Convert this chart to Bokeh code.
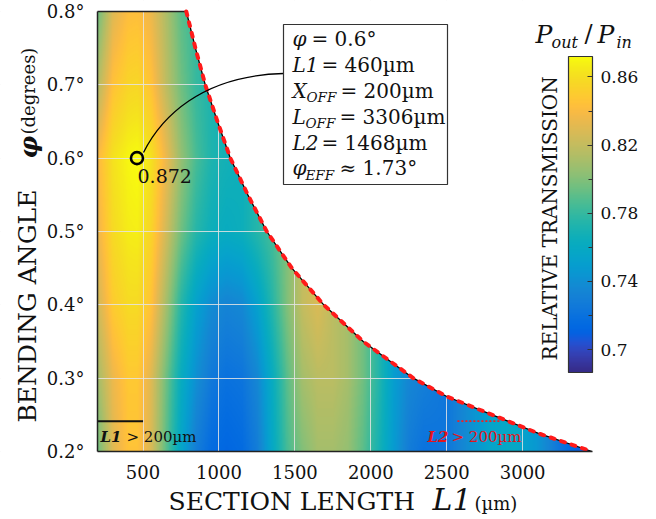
import numpy as np
from bokeh.plotting import figure
from bokeh.models import (LinearColorMapper, ColorBar, FixedTicker, Label,
                          BoxAnnotation, CustomJSTickFormatter)
from bokeh.embed import file_html
from bokeh.resources import INLINE

# ---------------- data ----------------
L1_grid = [200, 300, 400, 460, 550, 650, 750, 850, 950, 1050, 1150, 1250, 1350, 1450,
           1550, 1650, 1750, 1850, 1950, 2050, 2150, 2250, 2350, 2500, 2650, 2800,
           2950, 3100, 3250, 3460]
phi_grid = [0.2, 0.3, 0.4, 0.5, 0.6, 0.7, 0.8]
N = float("nan")
T_phi_020 = [0.795, 0.830, 0.845, 0.845, 0.828, 0.790, 0.755, 0.728, 0.715, 0.712,
             0.715, 0.728, 0.758, 0.785, 0.800, 0.810, 0.810, 0.805, 0.790, 0.770,
             0.748, 0.728, 0.720, 0.723, 0.740, 0.755, 0.758, 0.745, 0.722, 0.700]
T_phi_030 = [0.810, 0.835, 0.848, 0.848, 0.830, 0.795, 0.762, 0.740, 0.725, 0.720,
             0.722, 0.735, 0.762, 0.790, 0.810, 0.817, 0.817, 0.810, 0.795, 0.775,
             0.750, 0.735, 0.730] + [N] * 7
T_phi_040 = [0.825, 0.850, 0.858, 0.858, 0.845, 0.810, 0.775, 0.752, 0.738, 0.733,
             0.736, 0.752, 0.775, 0.800, 0.820, 0.828] + [N] * 14
T_phi_050 = [0.835, 0.858, 0.866, 0.867, 0.855, 0.825, 0.795, 0.775, 0.765, 0.762,
             0.765, 0.775, 0.785] + [N] * 17
T_phi_060 = [0.840, 0.862, 0.870, 0.872, 0.862, 0.835, 0.805, 0.785, 0.772, 0.768] + [N] * 20
T_phi_070 = [0.815, 0.845, 0.855, 0.856, 0.845, 0.818, 0.795, 0.780] + [N] * 22
T_phi_080 = [0.795, 0.830, 0.842, 0.843, 0.835, 0.813, 0.790] + [N] * 23

boundary_phi = [0.8, 0.75, 0.7, 0.65, 0.6, 0.55, 0.5, 0.45, 0.4, 0.35, 0.3, 0.275,
                0.25, 0.225, 0.2]
boundary_L1 = [785, 845, 910, 990, 1075, 1190, 1315, 1480, 1690, 1950, 2280, 2500,
               2800, 3100, 3457]

peak_L1, peak_phi, peak_T = 460, 0.6, 0.872
sel_phi, sel_L1, sel_Xoff, sel_Loff, sel_L2, sel_phi_eff = 0.6, 460, 200, 3306, 1468, 1.73

x_ticks = [500, 1000, 1500, 2000, 2500, 3000]
y_ticks = [0.2, 0.3, 0.4, 0.5, 0.6, 0.7, 0.8]
cbar_ticks = [0.70, 0.74, 0.78, 0.82, 0.86]
cbar_minor = [0.72, 0.76, 0.80, 0.84]
T_low, T_high = 0.6865, 0.872
L1_limit_x = [200, 500]
L2_limit_x = [2570, 2850]
limit_phi = 0.2414

X_LO, X_HI = 200, 3460
Y_LO, Y_HI = 0.2, 0.8

# ---------------- parula colormap ----------------
PARULA = [
    (0.2081, 0.1663, 0.5292), (0.2116, 0.1898, 0.5777), (0.2123, 0.2138, 0.6270),
    (0.2081, 0.2386, 0.6771), (0.1959, 0.2645, 0.7279), (0.1707, 0.2919, 0.7792),
    (0.1253, 0.3242, 0.8303), (0.0591, 0.3598, 0.8683), (0.0117, 0.3875, 0.8820),
    (0.0060, 0.4086, 0.8828), (0.0165, 0.4266, 0.8786), (0.0329, 0.4430, 0.8720),
    (0.0498, 0.4586, 0.8641), (0.0629, 0.4737, 0.8554), (0.0723, 0.4887, 0.8467),
    (0.0779, 0.5040, 0.8384), (0.0793, 0.5200, 0.8312), (0.0749, 0.5375, 0.8263),
    (0.0641, 0.5570, 0.8240), (0.0488, 0.5772, 0.8228), (0.0343, 0.5966, 0.8199),
    (0.0265, 0.6137, 0.8135), (0.0239, 0.6287, 0.8038), (0.0231, 0.6418, 0.7913),
    (0.0228, 0.6535, 0.7768), (0.0267, 0.6642, 0.7607), (0.0384, 0.6743, 0.7436),
    (0.0590, 0.6838, 0.7254), (0.0843, 0.6928, 0.7062), (0.1133, 0.7015, 0.6859),
    (0.1453, 0.7098, 0.6646), (0.1801, 0.7177, 0.6424), (0.2178, 0.7250, 0.6193),
    (0.2586, 0.7317, 0.5954), (0.3022, 0.7376, 0.5712), (0.3482, 0.7424, 0.5473),
    (0.3953, 0.7459, 0.5244), (0.4420, 0.7481, 0.5033), (0.4871, 0.7491, 0.4840),
    (0.5300, 0.7491, 0.4661), (0.5709, 0.7485, 0.4494), (0.6099, 0.7473, 0.4337),
    (0.6473, 0.7456, 0.4188), (0.6834, 0.7435, 0.4044), (0.7184, 0.7411, 0.3905),
    (0.7525, 0.7384, 0.3768), (0.7858, 0.7356, 0.3633), (0.8185, 0.7327, 0.3498),
    (0.8507, 0.7299, 0.3360), (0.8824, 0.7274, 0.3217), (0.9139, 0.7258, 0.3063),
    (0.9450, 0.7261, 0.2886), (0.9739, 0.7314, 0.2666), (0.9938, 0.7455, 0.2403),
    (0.9990, 0.7653, 0.2164), (0.9955, 0.7861, 0.1967), (0.9880, 0.8066, 0.1794),
    (0.9789, 0.8271, 0.1633), (0.9697, 0.8481, 0.1475), (0.9626, 0.8705, 0.1309),
    (0.9589, 0.8949, 0.1132), (0.9598, 0.9218, 0.0948), (0.9661, 0.9514, 0.0755),
    (0.9763, 0.9831, 0.0538)]
_pa = np.array(PARULA)
_t = np.linspace(0, 1, 256)
_ts = np.linspace(0, 1, len(PARULA))
palette = ["#%02x%02x%02x" % tuple(int(round(np.interp(t, _ts, _pa[:, k]) * 255)) for k in range(3))
           for t in _t]

# ---------------- layout: frame covers the whole canvas ----------------
FIG_W, FIG_H = 656, 519
RX0, RX1, RY0, RY1 = 97, 592, 11, 451   # data rectangle in pixels
KX = (X_HI - X_LO) / (RX1 - RX0)
KY = (Y_HI - Y_LO) / (RY1 - RY0)


def xr(px):
    return X_LO + (px - RX0) * KX


def yr(py):
    return Y_HI - (py - RY0) * KY


XR = (xr(0), xr(FIG_W))
YR = (yr(FIG_H), yr(0))
FONT = "DejaVu Serif"

p = figure(width=FIG_W, height=FIG_H, x_range=XR, y_range=YR,
           output_backend="svg", toolbar_location=None, min_border=0)
p.outline_line_color = None
p.background_fill_color = "white"
p.border_fill_color = "white"

# ---------------- heat map ----------------
Z = np.array([T_phi_020, T_phi_030, T_phi_040, T_phi_050, T_phi_060, T_phi_070, T_phi_080])
for i in range(1, Z.shape[0]):
    m = np.isnan(Z[i])
    Z[i, m] = Z[i - 1, m]
xf = np.linspace(X_LO, X_HI, 660)
yf = np.linspace(Y_LO, Y_HI, 440)
tmp = np.array([np.interp(xf, L1_grid, row) for row in Z])
img = np.array([np.interp(yf, phi_grid, tmp[:, j]) for j in range(len(xf))]).T

mapper = LinearColorMapper(palette=palette, low=T_low, high=T_high)
p.image(image=[img], x=X_LO, y=Y_LO, dw=X_HI - X_LO, dh=Y_HI - Y_LO,
        color_mapper=mapper, level="image")

# grid
for g in (p.xgrid, p.ygrid):
    g.grid_line_color = "#e4e4e4"
    g.grid_line_alpha = 0.85
    g.grid_line_width = 1

# white mask outside the data region
mask_x = [boundary_L1[0]] + boundary_L1 + [boundary_L1[-1], XR[1], XR[1]]
mask_y = [YR[1]] + boundary_phi + [YR[0], YR[0], YR[1]]
p.patch(mask_x, mask_y, fill_color="white", line_color=None)
p.quad(left=[XR[0], XR[0], XR[0]], right=[X_LO, XR[1], XR[1]],
       bottom=[YR[0], YR[0], Y_HI], top=[YR[1], Y_LO, YR[1]],
       fill_color="white", line_color=None)

# outline lines
p.line([X_LO, boundary_L1[0]], [Y_HI, Y_HI], line_color="#222222", line_width=1.5)
p.line(boundary_L1, boundary_phi, line_color="black", line_width=1.3)
p.line(boundary_L1, boundary_phi, line_color="#ff1a1a", line_width=4,
       line_dash="4 7", line_cap="round")

# limit markers
p.line(L1_limit_x, [limit_phi, limit_phi], line_color="#111111", line_width=2)
p.line(L2_limit_x, [limit_phi, limit_phi], line_color="#ff1a1a", line_width=1.6,
       line_dash="2 2")

# connector
p.bezier(x0=[xr(143)], y0=[yr(152)], x1=[xr(283)], y1=[yr(73)],
         cx0=[xr(160)], cy0=[yr(118)], cx1=[xr(200)], cy1=[yr(75)],
         line_color="black", line_width=1.3)

# peak marker
p.scatter(x=[peak_L1], y=[peak_phi], size=12, marker="circle", fill_alpha=0,
          line_color="black", line_width=2.6)

# ---------------- axes (pinned to the data rectangle) ----------------
p.xaxis.ticker = FixedTicker(ticks=x_ticks)
p.yaxis.ticker = FixedTicker(ticks=y_ticks)
p.yaxis.formatter = CustomJSTickFormatter(code="return tick.toFixed(1) + '°';")
p.xaxis.fixed_location = Y_LO
p.yaxis.fixed_location = X_LO
p.xaxis.bounds = (X_LO, X_HI)
p.yaxis.bounds = (Y_LO, Y_HI)
for ax in (p.xaxis, p.yaxis):
    ax.axis_line_color = "#222222"
    ax.axis_line_width = 1.5
    ax.major_tick_line_color = None
    ax.minor_tick_line_color = None
    ax.major_label_text_font = FONT
    ax.major_label_text_font_size = "18px"
    ax.major_label_text_color = "#111111"
p.xaxis.major_label_standoff = 7
p.yaxis.major_label_standoff = 7

BASE_SHIFT = 0.38   # compensates where the Label draws its alphabetic baseline


# ---------------- texts ----------------
def add_text(text, px, py, size, style="normal", color="#111111", rotated=False):
    if rotated:
        px = px - BASE_SHIFT * size
        angle = np.pi / 2
    else:
        py = py - BASE_SHIFT * size
        angle = 0.0
    p.add_layout(Label(x=xr(px), y=yr(py), text=text, text_font=FONT,
                       text_font_size=f"{size}px", text_font_style=style,
                       text_color=color, angle=angle, text_align="left",
                       text_baseline="alphabetic"))


# axis titles
add_text("SECTION LENGTH", 168, 510, 25)
add_text("L1", 432, 510, 30, "italic")
add_text("(µm)", 474, 510, 18)
add_text("BENDING ANGLE", 36, 422, 25, rotated=True)
add_text("φ", 37, 158, 25, "bold italic", rotated=True)
add_text("(degrees)", 35, 134, 18, rotated=True)

# peak value
add_text(f"{peak_T:.3f}", 137, 183, 19)

# limit labels
add_text("L1", 100, 442, 15, "bold italic")
add_text("> 200µm", 126, 442, 15)
add_text("L2", 427, 442, 15, "bold italic", color="#e3141c")
add_text("> 200µm", 451, 442, 15, color="#e3141c")

# info box
p.add_layout(BoxAnnotation(left=xr(283), right=xr(447), top=yr(24), bottom=yr(184),
                           fill_color="white", fill_alpha=1.0,
                           line_color="#333333", line_width=1.2, line_alpha=1.0))
base = [46, 71.9, 97.8, 123.7, 149.6, 175.5]
box_rows = [
    [("φ", 292, 0, 20, "italic"), (f"= {sel_phi}°", 311, 0, 20, "normal")],
    [("L1", 292, 0, 20, "italic"), (f"= {sel_L1}µm", 321, 0, 20, "normal")],
    [("X", 292, 0, 20, "italic"), ("OFF", 306, 4, 13.5, "italic"),
     (f"= {sel_Xoff}µm", 340, 0, 20, "normal")],
    [("L", 292, 0, 20, "italic"), ("OFF", 305, 4, 13.5, "italic"),
     (f"= {sel_Loff}µm", 339, 0, 20, "normal")],
    [("L2", 292, 0, 20, "italic"), (f"= {sel_L2}µm", 321, 0, 20, "normal")],
    [("φ", 292, 0, 20, "italic"), ("EFF", 305, 4, 13.5, "italic"),
     (f"≈ {sel_phi_eff}°", 339, 0, 20, "normal")],
]
for b, row in zip(base, box_rows):
    for txt, px, dy, size, style in row:
        add_text(txt, px, b + dy, size, style)

# colour bar
cb_left, cb_top, cb_bot = 568, 56, 372
cbar = ColorBar(color_mapper=mapper,
                ticker=FixedTicker(ticks=cbar_ticks, minor_ticks=cbar_minor),
                formatter=CustomJSTickFormatter(code="return parseFloat(tick.toFixed(2)).toString();"),
                location=(cb_left, FIG_H - cb_bot), orientation="vertical",
                width=24, height=cb_bot - cb_top, padding=0,
                bar_line_color="#333333", bar_line_width=1.2,
                major_tick_line_color="#333333", major_tick_in=5, major_tick_out=0,
                minor_tick_line_color="#333333", minor_tick_in=4, minor_tick_out=0,
                major_label_text_font=FONT, major_label_text_font_size="17px",
                major_label_text_color="#111111", label_standoff=8,
                background_fill_alpha=0, border_line_color=None)
p.add_layout(cbar, "center")

add_text("RELATIVE TRANSMISSION", 557, 360, 20, rotated=True)
add_text("P", 535, 43, 25, "italic")
add_text("out", 551, 48, 16, "italic")
add_text("/", 584, 43, 24)
add_text("P", 597, 43, 25, "italic")
add_text("in", 616, 48, 16, "italic")

open("out.html", "w").write(file_html(p, INLINE))
